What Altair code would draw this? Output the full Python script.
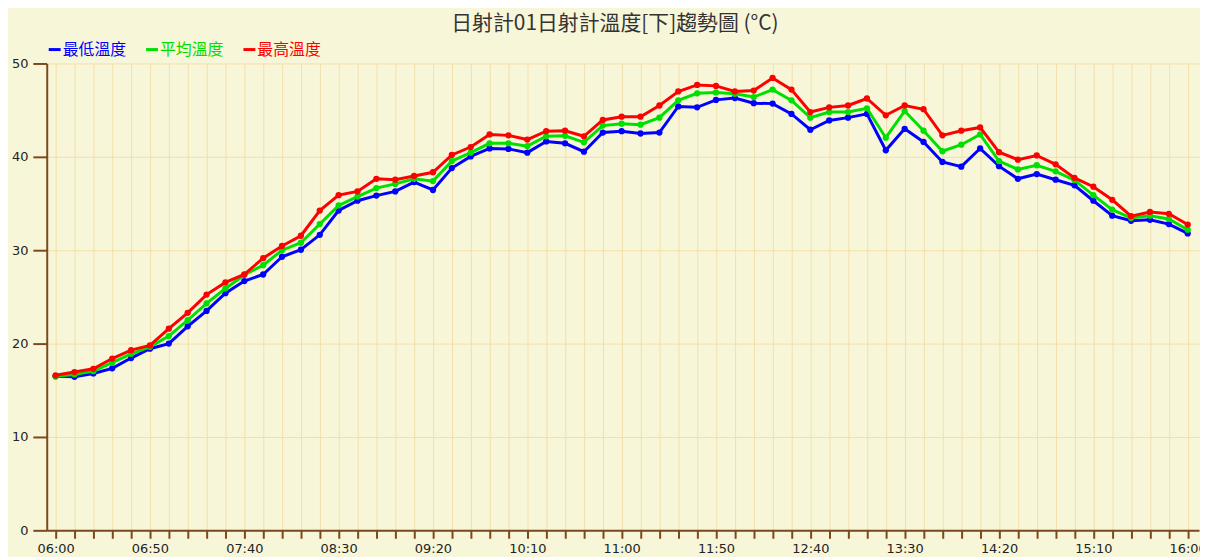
import json
import altair as alt
import pandas as pd

chart_title = "日射計01日射計溫度[下]趨勢圖 (°C)"

times = [
    "06:00", "06:10", "06:20", "06:30", "06:40", "06:50",
    "07:00", "07:10", "07:20", "07:30", "07:40", "07:50",
    "08:00", "08:10", "08:20", "08:30", "08:40", "08:50",
    "09:00", "09:10", "09:20", "09:30", "09:40", "09:50",
    "10:00", "10:10", "10:20", "10:30", "10:40", "10:50",
    "11:00", "11:10", "11:20", "11:30", "11:40", "11:50",
    "12:00", "12:10", "12:20", "12:30", "12:40", "12:50",
    "13:00", "13:10", "13:20", "13:30", "13:40", "13:50",
    "14:00", "14:10", "14:20", "14:30", "14:40", "14:50",
    "15:00", "15:10", "15:20", "15:30", "15:40", "15:50",
    "16:00",
]

series_names = ["最低溫度", "平均溫度", "最高溫度"]
series_colors = ["#0000ff", "#00e000", "#ff0000"]

min_temp = [
    16.5, 16.45, 16.8, 17.35, 18.45, 19.45, 20.0, 21.85, 23.5, 25.4,
    26.7, 27.4, 29.3, 30.05, 31.65, 34.25, 35.3, 35.85, 36.3, 37.3,
    36.45, 38.8, 40.05, 40.9, 40.85, 40.45, 41.65, 41.45, 40.55, 42.6,
    42.75, 42.5, 42.6, 45.4, 45.3, 46.1, 46.3, 45.75, 45.7, 44.6,
    42.9, 43.9, 44.2, 44.6, 40.7, 43.0, 41.6, 39.45, 38.95, 40.9,
    39.0, 37.65, 38.15, 37.55, 36.95, 35.3, 33.7, 33.15, 33.25, 32.8,
    31.8,
]
avg_temp = [
    16.5, 16.7, 17.05, 17.95, 18.9, 19.65, 20.8, 22.5, 24.3, 25.9,
    27.35, 28.4, 30.0, 30.8, 32.8, 34.8, 35.75, 36.65, 37.1, 37.65,
    37.4, 39.55, 40.45, 41.45, 41.45, 41.15, 42.2, 42.25, 41.55, 43.35,
    43.55, 43.45, 44.2, 46.05, 46.8, 46.9, 46.75, 46.4, 47.2, 46.05,
    44.2, 44.8, 44.8, 45.2, 42.05, 44.9, 42.8, 40.6, 41.3, 42.4,
    39.55, 38.65, 39.1, 38.45, 37.5, 35.9, 34.35, 33.45, 33.7, 33.35,
    32.2,
]
max_temp = [
    16.6, 16.95, 17.3, 18.4, 19.3, 19.8, 21.6, 23.3, 25.25, 26.55,
    27.4, 29.15, 30.45, 31.55, 34.25, 35.9, 36.3, 37.65, 37.55, 37.95,
    38.35, 40.2, 41.05, 42.4, 42.3, 41.85, 42.75, 42.8, 42.2, 43.95,
    44.3, 44.3, 45.5, 47.0, 47.7, 47.6, 47.0, 47.1, 48.45, 47.2,
    44.8, 45.3, 45.5, 46.25, 44.45, 45.5, 45.1, 42.3, 42.8, 43.15,
    40.5, 39.7, 40.15, 39.2, 37.75, 36.8, 35.4, 33.65, 34.1, 33.9,
    32.75,
]

y_ticks = [0, 10, 20, 30, 40, 50]

rows = []
for name, vals in zip(series_names, [min_temp, avg_temp, max_temp]):
    for i, (t, v) in enumerate(zip(times, vals)):
        rows.append({"idx": i, "time": t, "series": name, "value": v})
df = pd.DataFrame(rows)

AXIS_BROWN = "#7a4a1c"
GRID = "#f3dfaa"
BG = "#f8f6d8"
CJK = "Noto Sans CJK TC"

label_expr = "datum.value % 5 == 0 ? " + json.dumps(times) + "[datum.value] : ''"
color_expr = (
    "datum.label == " + json.dumps(series_names[0]) + " ? " + json.dumps(series_colors[0])
    + " : datum.label == " + json.dumps(series_names[1]) + " ? " + json.dumps(series_colors[1])
    + " : " + json.dumps(series_colors[2])
)

x_enc = alt.X(
    "idx:Q",
    scale=alt.Scale(domain=[-0.47, 60.6], nice=False, zero=False),
    axis=alt.Axis(
        values=list(range(len(times))),
        labelExpr=label_expr,
        title=None,
        grid=True,
        gridColor=GRID,
        gridWidth=1,
        domainColor=AXIS_BROWN,
        domainWidth=2,
        tickColor=AXIS_BROWN,
        tickWidth=2,
        tickSize=8,
        labelPadding=4,
        labelFont="DejaVu Sans",
        labelFontSize=13,
        labelColor="#222222",
        labelOverlap=False,
        labelFlush=False,
    ),
)
y_enc = alt.Y(
    "value:Q",
    scale=alt.Scale(domain=[0, 50], nice=False),
    axis=alt.Axis(
        values=y_ticks,
        title=None,
        grid=True,
        gridColor=GRID,
        gridWidth=1,
        domainColor=AXIS_BROWN,
        domainWidth=2,
        tickColor=AXIS_BROWN,
        tickWidth=2,
        tickSize=14,
        labelPadding=5,
        labelFont="DejaVu Sans",
        labelFontSize=13,
        labelColor="#222222",
    ),
)
color_enc = alt.Color(
    "series:N",
    scale=alt.Scale(domain=series_names, range=series_colors),
    legend=alt.Legend(
        title=None,
        orient="none",
        legendX=0,
        legendY=-22,
        direction="horizontal",
        symbolType="stroke",
        symbolSize=144,
        symbolStrokeWidth=3,
        labelFont=CJK,
        labelFontSize=16,
        labelOffset=0,
        columnPadding=13,
        padding=0,
        labelColor=alt.ExprRef(color_expr),
    ),
)


def series_layer(name):
    return (
        alt.Chart(df)
        .transform_filter(alt.datum.series == name)
        .mark_line(
            strokeWidth=3,
            point=alt.OverlayMarkDef(filled=True, size=40, opacity=1),
        )
        .encode(x=x_enc, y=y_enc, color=color_enc, order="idx:Q")
    )


chart = (
    alt.layer(*[series_layer(n) for n in series_names])
    .properties(
        width=1160,
        height=470,
        autosize=alt.AutoSizeParams(type="none"),
        padding={"left": 39, "top": 54, "right": 1, "bottom": 25},
        title=alt.TitleParams(
            text=chart_title,
            font=CJK,
            fontSize=21,
            fontWeight="normal",
            color="#333333",
            anchor="middle",
            frame="group",
            dx=-8,
            offset=8,
        ),
    )
    .configure(background=BG)
    .configure_view(stroke=None)
)

chart.save("out.html", embed_options={"renderer": "svg", "actions": False})
